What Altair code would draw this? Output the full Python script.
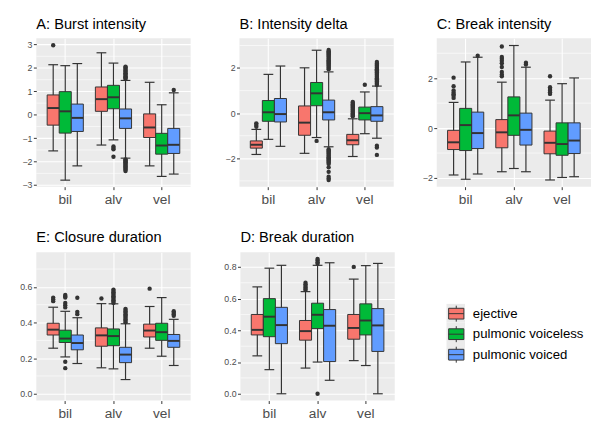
import altair as alt
import pandas as pd

places = ["bil", "alv", "vel"]
types = ["ejective", "pulmonic voiceless", "pulmonic voiced"]
colors = ["#F8766D", "#00BA38", "#619CFF"]

# group order: bil-ej, bil-pvl, bil-pvd, alv-ej, alv-pvl, alv-pvd, vel-ej, vel-pvl, vel-pvd
# A: Burst intensity
a_hi = [2.14, 2.10, 2.19, 2.65, 2.21, 1.47, 1.39, 0.43, 0.94]
a_q3 = [0.85, 0.99, 0.46, 1.19, 1.26, 0.25, 0.04, -0.79, -0.58]
a_med = [0.29, 0.15, -0.13, 0.67, 0.75, -0.15, -0.54, -1.31, -1.28]
a_q1 = [-0.44, -0.78, -0.71, 0.15, 0.26, -0.58, -0.97, -1.68, -1.65]
a_lo = [-1.54, -2.79, -2.18, -1.29, -1.07, -1.85, -2.18, -2.63, -2.53]
a_out_grp = [0, 4, 4, 4, 4] + [5] * 26 + [8]
a_out_val = [2.97, -1.35, -1.42, -1.47, -1.79,
             1.53, 1.57, 1.61, 1.65, 1.70, 1.74, 1.78, 1.83, 1.87, 1.92, 1.97, 2.02, 2.06,
             -1.90, -1.94, -1.98, -2.02, -2.06, -2.10, -2.14, -2.18, -2.22, -2.26, -2.30, -2.35, -2.40,
             1.06]

# B: Intensity delta
b_hi = [-0.72, 1.72, 2.09, 2.01, 2.79, 1.83, -0.25, 0.94, 1.20]
b_q3 = [-1.23, 0.56, 0.65, 0.32, 1.36, 0.58, -0.94, 0.27, 0.29]
b_med = [-1.40, 0.04, -0.04, -0.42, 0.88, 0.04, -1.20, 0.00, -0.10]
b_q1 = [-1.55, -0.36, -0.39, -0.98, 0.33, -0.30, -1.40, -0.30, -0.36]
b_lo = [-1.83, -1.16, -1.47, -1.78, -1.08, -1.49, -1.92, -0.91, -1.11]
b_out_grp = [0, 0, 0, 4] + [5] * 18 + [5] * 19 + [6] * 14 + [7] + [8] * 21 + [8] * 3
b_out_val = [-0.45, -0.52, -0.60, -1.23,
             1.95, 2.00, 2.05, 2.10, 2.15, 2.20, 2.25, 2.30, 2.35, 2.40, 2.45, 2.50, 2.55, 2.60, 2.65, 2.70, 2.75, 2.80,
             -1.60, -1.65, -1.70, -1.75, -1.80, -1.85, -1.90, -1.95, -2.00, -2.05, -2.10, -2.15, -2.20, -2.25,
             -2.40, -2.60, -2.82, -2.90, -2.96,
             0.50, 0.45, 0.40, 0.35, 0.30, 0.25, 0.20, 0.15, 0.10, 0.05, 0.00, -0.05, -0.10, -0.14,
             1.26,
             1.25, 1.30, 1.35, 1.40, 1.45, 1.50, 1.55, 1.60, 1.65, 1.70, 1.75, 1.80, 1.85, 1.90, 1.95, 2.00,
             2.05, 2.10, 2.15, 2.20, 2.27,
             -1.44, -1.52, -1.85]

# C: Break intensity
c_hi = [1.03, 2.65, 2.84, 1.84, 3.31, 2.44, 1.12, 1.78, 2.01]
c_q3 = [-0.09, 0.79, 0.64, 0.34, 1.25, 0.60, -0.12, 0.21, 0.21]
c_med = [-0.57, 0.12, -0.20, -0.17, 0.51, -0.07, -0.59, -0.64, -0.50]
c_q1 = [-0.86, -0.90, -0.82, -0.79, -0.29, -0.68, -1.03, -1.09, -1.02]
c_lo = [-1.88, -2.05, -1.84, -1.75, -1.62, -1.75, -2.08, -1.98, -1.95]
c_out_grp = [0] * 7 + [2] + [3] * 9 + [5] * 2 + [6] * 6
c_out_val = [2.02, 1.68, 1.51, 1.42, 1.36, 1.30, 1.21,
             2.90,
             3.27, 2.85, 2.78, 2.70, 2.60, 2.45, 2.25, 2.15, 2.08,
             2.62, 2.55,
             2.08, 1.64, 1.57, 1.50, 1.44, 1.37]

# E: Closure duration
e_hi = [0.486, 0.463, 0.427, 0.506, 0.505, 0.393, 0.490, 0.540, 0.418]
e_q3 = [0.396, 0.357, 0.330, 0.370, 0.364, 0.261, 0.391, 0.396, 0.333]
e_med = [0.360, 0.310, 0.285, 0.328, 0.324, 0.220, 0.355, 0.346, 0.297]
e_q1 = [0.330, 0.288, 0.247, 0.267, 0.270, 0.175, 0.319, 0.300, 0.261]
e_lo = [0.256, 0.207, 0.170, 0.146, 0.140, 0.080, 0.256, 0.211, 0.159]
e_out_grp = [0] * 3 + [1] * 8 + [2] * 3 + [3] + [4] * 11 + [5] * 11 + [6] + [8] * 4
e_out_val = [0.540, 0.530, 0.520,
             0.555, 0.548, 0.540, 0.510, 0.497, 0.485, 0.180, 0.144,
             0.539, 0.460, 0.447,
             0.535,
             0.585, 0.577, 0.570, 0.562, 0.555, 0.547, 0.540, 0.532, 0.525, 0.517, 0.510,
             0.477, 0.470, 0.462, 0.455, 0.447, 0.440, 0.432, 0.425, 0.417, 0.410, 0.402,
             0.590,
             0.463, 0.455, 0.447, 0.438]

# D: Break duration
d_hi = [0.674, 0.792, 0.810, 0.644, 0.810, 0.826, 0.723, 0.808, 0.822]
d_q3 = [0.500, 0.600, 0.545, 0.462, 0.571, 0.531, 0.500, 0.567, 0.537]
d_med = [0.403, 0.486, 0.433, 0.395, 0.498, 0.429, 0.415, 0.462, 0.431]
d_q1 = [0.371, 0.360, 0.316, 0.338, 0.411, 0.203, 0.344, 0.371, 0.267]
d_lo = [0.239, 0.152, 0.000, 0.162, 0.200, 0.085, 0.209, 0.178, 0.000]
d_out_grp = [3] * 6 + [4] * 5 + [6]
d_out_val = [0.700, 0.690, 0.680, 0.670, 0.660, 0.655,
             0.850, 0.840, 0.830, 0.820, 0.000,
             0.800]

FONT = "Liberation Sans"
DARK = "#333333"
KEYBG = "#EBEBEB"
groups = [(p, t) for p in places for t in types]

LEG = dict(title=None, orient="none", legendX=420, legendY=272, padding=0,
           symbolSize=361, labelFont=FONT, labelFontSize=13.5, labelOffset=7,
           rowPadding=-3.7)

fill_enc = alt.Fill(
    "type:N",
    scale=alt.Scale(domain=types, range=colors),
    legend=alt.Legend(
        symbolType="M-0.82,-0.58H0.82V0.58H-0.82Z M-0.82,0H0.82 M0,-0.58V-0.86 M0,0.58V0.86",
        symbolStrokeColor=DARK, symbolStrokeWidth=1, labelColor="black", zindex=2, **LEG),
)
# grey key backgrounds (ggplot legend.key) as a second legend without labels
key_enc = alt.Shape(
    "key:N",
    scale=alt.Scale(range=["square", "square", "square"]),
    legend=alt.Legend(
        symbolType="M-1,-1H1V1H-1Z", symbolFillColor=KEYBG, symbolStrokeColor=KEYBG,
        symbolStrokeWidth=0, symbolOpacity=1, labelExpr="''", zindex=1, **LEG),
)


def panel(title, lo, q1, med, q3, hi, out_grp, out_val, domain, major, minor, fmt, keys=False):
    df = pd.DataFrame({
        "place": [g[0] for g in groups], "type": [g[1] for g in groups],
        "key": [g[1] for g in groups],
        "lo": lo, "q1": q1, "med": med, "q3": q3, "hi": hi,
    })
    odf = pd.DataFrame({
        "place": [groups[i][0] for i in out_grp], "type": [groups[i][1] for i in out_grp],
        "v": out_val,
    })
    mdf = pd.DataFrame({"v": minor})
    ysc = alt.Scale(domain=domain, nice=False, zero=False)
    yax = alt.Axis(values=major, format=fmt, title=None, labelFont=FONT, labelFontSize=9,
                   labelExpr="replace(datum.label, '-', '\u2212')",
                   labelColor="#4D4D4D", tickColor=DARK, tickSize=3, labelPadding=1.5,
                   domain=False, grid=True, gridColor="white", gridWidth=1.1)
    xax = alt.Axis(title=None, labelFont=FONT, labelFontSize=14, labelColor="#4D4D4D",
                   labelAngle=0, tickColor=DARK, tickSize=3, labelPadding=3, domain=False,
                   grid=True, gridColor="white", gridWidth=1.1, bandPosition=0.5)
    x = alt.X("place:N", sort=places, axis=xax,
              scale=alt.Scale(domain=places, paddingInner=0.25, paddingOuter=0.225))
    xo = alt.XOffset("type:N", sort=types,
                     scale=alt.Scale(domain=types, paddingInner=0, paddingOuter=0))

    grid = alt.Chart(mdf).mark_rule(color="white", strokeWidth=0.6).encode(
        y=alt.Y("v:Q", scale=ysc, axis=yax))
    base = alt.Chart(df)
    whisk = base.mark_rule(color=DARK, strokeWidth=1.2).encode(
        x=x, xOffset=xo, y=alt.Y("lo:Q", scale=ysc, axis=yax), y2="hi:Q")
    caps = base.transform_fold(["lo", "hi"], as_=["k", "val"]).mark_tick(
        orient="horizontal", color=DARK, size=10, thickness=1.2, opacity=1).encode(
        x=x, xOffset=xo, y=alt.Y("val:Q", scale=ysc, axis=yax))
    box = base.mark_bar(stroke=DARK, strokeWidth=1, opacity=1).encode(
        x=x, xOffset=xo, y=alt.Y("q1:Q", scale=ysc, axis=yax), y2="q3:Q", fill=fill_enc)
    med_l = base.mark_tick(orient="horizontal", color=DARK, size=12, thickness=2, opacity=1).encode(
        x=x, xOffset=xo, y=alt.Y("med:Q", scale=ysc, axis=yax))
    pts = alt.Chart(odf).mark_circle(color=DARK, size=20, opacity=1).encode(
        x=x, xOffset=xo, y=alt.Y("v:Q", scale=ysc, axis=yax))
    layers = [grid, whisk, caps, box, med_l, pts]
    if keys:
        layers.append(base.mark_point(opacity=0, filled=True, color=KEYBG).encode(
            x=x, xOffset=xo, y=alt.Y("med:Q", scale=ysc, axis=yax), shape=key_enc))
    return alt.layer(*layers).properties(
        width=158, height=152,
        title=alt.TitleParams(title, anchor="start", frame="group", font=FONT, fontSize=15,
                              fontWeight="normal", color="black", offset=7),
    )


pA = panel("A: Burst intensity", a_lo, a_q1, a_med, a_q3, a_hi, a_out_grp, a_out_val,
           [-3.07, 3.27], [-3, -2, -1, 0, 1, 2, 3], [-2.5, -1.5, -0.5, 0.5, 1.5, 2.5], "d")
pB = panel("B: Intensity delta", b_lo, b_q1, b_med, b_q3, b_hi, b_out_grp, b_out_val,
           [-3.26, 3.32], [-2, 0, 2], [-3, -1, 1, 3], "d")
pC = panel("C: Break intensity", c_lo, c_q1, c_med, c_q3, c_hi, c_out_grp, c_out_val,
           [-2.35, 3.6], [-2, 0, 2], [-1, 1, 3], "d")
pE = panel("E: Closure duration", e_lo, e_q1, e_med, e_q3, e_hi, e_out_grp, e_out_val,
           [-0.038, 0.795], [0, 0.2, 0.4, 0.6], [0.1, 0.3, 0.5, 0.7], ".1f")
pD = panel("D: Break duration", d_lo, d_q1, d_med, d_q3, d_hi, d_out_grp, d_out_val,
           [-0.043, 0.893], [0, 0.2, 0.4, 0.6, 0.8], [0.1, 0.3, 0.5, 0.7], ".1f", keys=True)

row1 = alt.hconcat(alt.hconcat(pA, pB, spacing=34), pC, spacing=28)
row2 = alt.hconcat(pE, pD, spacing=32)

chart = alt.vconcat(row1, row2, spacing=25).properties(
    padding={"left": 11, "top": 4, "right": 0, "bottom": 0},
    background="white",
).configure_view(stroke=None, fill="#EBEBEB")

chart.save("out.html", embed_options={"renderer": "svg", "actions": False})
